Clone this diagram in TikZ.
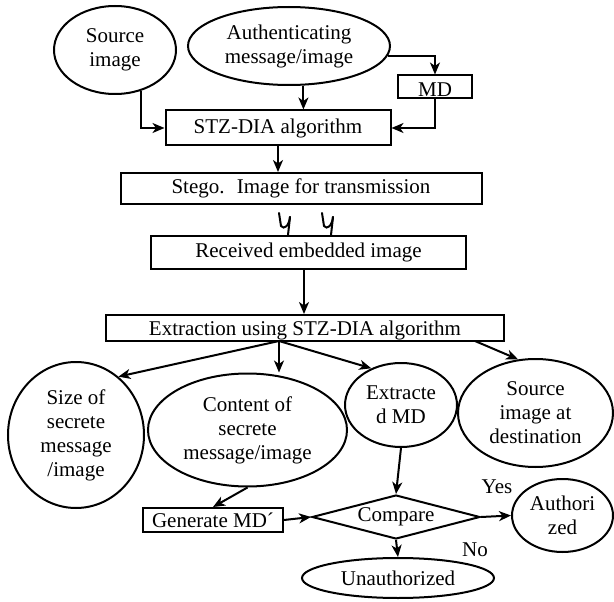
\documentclass[tikz,border=0pt]{standalone}
\usepackage{fontspec}
\setmainfont{Liberation Serif}
\usetikzlibrary{shapes.geometric,arrows.meta}

\begin{document}
\begin{tikzpicture}[x=1pt,y=-1pt,
  line width=2pt,
  font=\fontsize{21}{24}\selectfont,
  arr/.style={-{Stealth[length=12pt,width=10pt,inset=3.5pt]}},
  oval/.style={draw, ellipse, inner sep=0pt, align=center},
  box/.style={draw, rectangle, inner sep=0pt},
  decide/.style={draw, diamond, aspect=3.8, inner sep=0pt, minimum width=168pt, minimum height=44pt}]
\useasboundingbox (0,0) rectangle (614,602);

% sender side
\node [oval, minimum width=122pt, minimum height=88pt] (src) at (115,50) {Source\\image};
\node [oval, minimum width=202pt, minimum height=78pt] (auth) at (289,46) {Authenticating\\message/image};
\node [box, minimum width=74pt, minimum height=23pt] (md) at (435,87) {\raisebox{-10pt}[0pt][0pt]{MD}};
\node [box, minimum width=225pt, minimum height=35pt] (stz) at (278,128) {STZ-DIA algorithm};
\node [box, minimum width=361pt, minimum height=31pt] (stego) at (301,188.5) {Stego.~ Image for transmission};
\node [box, minimum width=315pt, minimum height=33pt] (recv) at (308.5,252.5) {Received embedded image};

\draw[arr] (src.-57) |- (stz.west);
\draw[arr] (auth.-70) -- (auth.-70 |- stz.north);
\draw[arr] (auth.-6) -| (md.north);
\draw[arr] (md.south) |- (stz.east);
\draw[arr] (stz.south) -- (stz.south |- stego.north);

% transmission marks
\foreach \sx in {0,43} {
  \draw[line cap=round] (279+\sx,213) -- (281+\sx,226) .. controls (284+\sx,230) and (289+\sx,226) .. (290+\sx,217);
  \draw[line cap=round] (290+\sx,217) -- (288+\sx,235);
}

% receiver side
\node [box, minimum width=398pt, minimum height=26pt] (extr) at (305,328) {\raisebox{-7pt}[0pt][0pt]{Extraction using STZ-DIA algorithm}};
\draw[arr] (recv.south -| 304,0) -- (extr.north -| 304,0);

\coordinate (fan) at (279,341);
\coordinate (fan2) at (475,341);

\node [oval, minimum width=136pt, minimum height=146pt] (size) at (76,435) {Size of\\secrete\\message\\/image};
\node [oval, minimum width=199pt, minimum height=113pt] (cont) at (247.5,430) {Content of\\secrete\\message/image};
\node [oval, minimum width=112pt, minimum height=84pt] (xmd) at (401,405) {Extracte\\d MD};
\node [oval, minimum width=155pt, minimum height=108pt] (dest) at (535.5,413) {Source\\image at\\destination};

\draw[arr] (fan) -- (size.54);
\draw[arr] (fan) -- (fan |- cont.north);
\draw[arr] (fan) -- (xmd.129);
\draw[arr] (fan2) -- (dest.108);

\node [box, minimum width=140pt, minimum height=24pt] (gen) at (213,520) {Generate MD´};
\node [decide] (cmp) at (396,517) {\raisebox{-3pt}{Compare}};
\node [oval, minimum width=101pt, minimum height=73pt] (ok) at (562.5,515.5) {Authori\\zed};
\node [oval, minimum width=192pt, minimum height=40pt] (notok) at (398,578) {Unauthorized};

\draw[arr] (cont.south) -- (gen.north);
\draw[arr] (gen.east) -- (cmp.west);
\draw[arr] (xmd.south) -- (cmp.north);
\draw[arr] (cmp.east) -- (ok.west);
\draw[arr] (cmp.south) -- (notok.north);

\node (lblyes) at (497,487) {Yes};
\node (lblno) at (475,550) {No};
\end{tikzpicture}
\end{document}
